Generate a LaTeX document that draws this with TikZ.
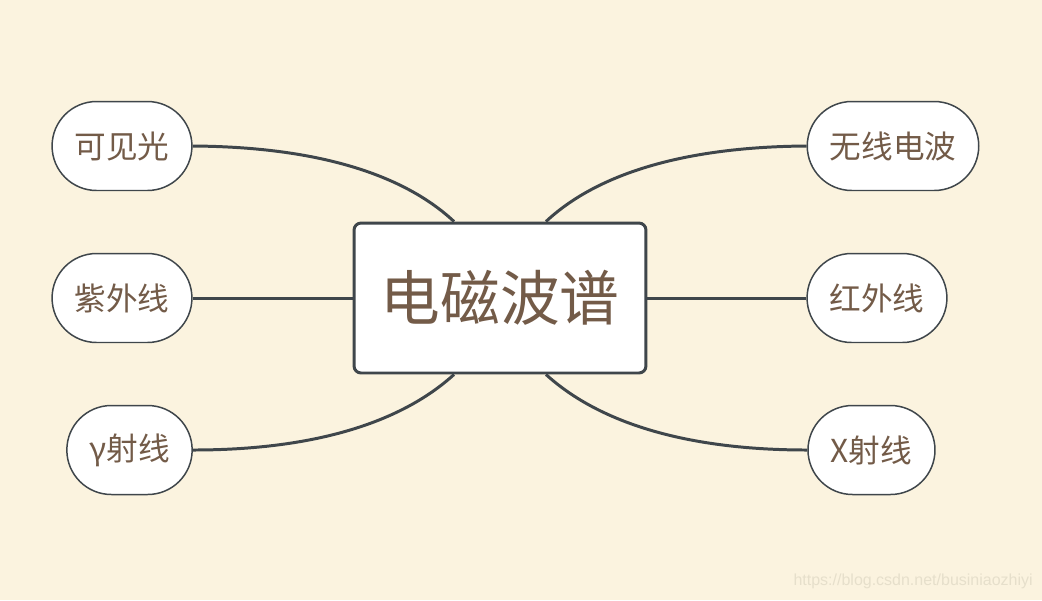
\documentclass[tikz,border=0pt]{standalone}
\usepackage{fontspec}
\newfontfamily\cjk{Noto Sans CJK SC}
\setmainfont{Liberation Sans}
\definecolor{paper}{HTML}{FBF3DF}
\definecolor{edge}{HTML}{3F464B}
\definecolor{ink}{HTML}{735B48}
\definecolor{mark}{HTML}{E6DFCB}
\begin{document}
\begin{tikzpicture}[x=0.02cm,y=-0.02cm,
    topic/.style={draw=edge,line width=1.7pt,fill=white,rounded corners=4pt,
      minimum width=5.84cm,minimum height=3cm,text=ink,font=\cjk\fontsize{34}{40}\selectfont},
    leaf/.style={draw=edge,line width=0.85pt,fill=white,rounded corners=0.89cm,
      minimum height=1.78cm,inner xsep=0.45cm,text=ink,font=\cjk\fontsize{18}{22}\selectfont},
    branch/.style={draw=edge,line width=1.7pt}]
  \fill[paper] (0,0) rectangle (1042,600);
  \useasboundingbox (0,0) rectangle (1042,600);
  \node[topic] (EM) at (500,298) {电磁波谱};
  \node[leaf,minimum width=2.76cm] (Vis) at (122,146) {可见光};
  \node[leaf,minimum width=2.76cm] (UV) at (122,298) {紫外线};
  \node[leaf,minimum width=2.46cm] (Gam) at (129.5,450) {γ射线};
  \node[leaf,minimum width=3.4cm] (Rad) at (893,146) {无线电波};
  \node[leaf,minimum width=2.76cm] (IR) at (877,298) {红外线};
  \node[leaf,minimum width=2.54cm] (Xr) at (871.5,450) {X射线};
  \draw[branch] (Vis.east) .. controls (340,147) and (415,185) .. (EM.121);
  \draw[branch] (Rad.west) .. controls (660,147) and (585,185) .. (EM.59);
  \draw[branch] (UV) -- (EM);
  \draw[branch] (IR) -- (EM);
  \draw[branch] (Gam.east) .. controls (340,450) and (415,410) .. (EM.-121);
  \draw[branch] (Xr.west) .. controls (660,450) and (585,410) .. (EM.-59);
  \node[text=mark,font=\fontsize{9.1}{11}\selectfont,anchor=east,inner sep=0pt] (Wm) at (1033,581) {https://blog.csdn.net/businiaozhiyi};
\end{tikzpicture}
\end{document}
